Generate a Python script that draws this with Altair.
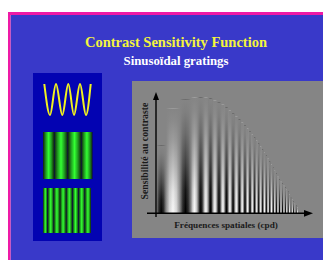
import altair as alt
import pandas as pd

# ---------------- texts ----------------
TITLE = "Contrast Sensitivity Function"
SUBTITLE = "Sinusoïdal gratings"
X_LABEL = "Fréquences spatiales (cpd)"
Y_LABEL = "Sensibilité au contraste"

# ---------------- CSF grating (Campbell-Robson chart) ----------------
# stripe centres measured from the y axis (px units), alternating dark / bright
STRIPE_POS = [3, 17, 31, 39, 45, 50, 54.5, 59, 63, 67, 70.5, 74, 77, 80.5, 83.5, 86.3,
              89, 91.7, 94, 96.3, 98.7, 100.7, 102.7, 104.7, 106.7, 108.5, 110.3, 112.1,
              113.8, 115.5, 117.2, 118.8, 120.4, 122.0, 123.5, 125.0, 126.5, 128.0, 129.4,
              130.8, 132.2, 133.6, 135.0, 136.3, 137.6, 138.9, 140.2, 141.5]
STRIPE_KIND = list("DBDBDBDBDBDBDBDBDBDBDBDBDBDBDBDBDBDBDBDBDBDBDBDB")
# height of each stripe above the frequency axis (sensitivity envelope)
STRIPE_HEIGHT = [68, 105, 114, 116, 116, 116, 115, 113, 111, 109, 106, 103, 100, 97, 94, 91,
                 88, 85, 82, 79, 76, 73, 70, 67, 64, 61, 58, 55, 52, 49, 46, 43, 40, 37, 34,
                 32, 30, 28, 26, 24, 22, 19, 16, 14, 12, 10, 8, 6]

# ---------------- icon panel ----------------
WAVE_X = [1.3, 7, 13, 19.3, 25.3, 31, 37, 43, 47.7]
WAVE_LEVEL = [1, 0, 1, 0, 1, 0, 1, 0, 1]
LOW_FREQ_GREEN = [4.5, 18, 31.5, 45]
HIGH_FREQ_GREEN = [1.5, 7.7, 13.9, 20.1, 26.3, 32.5, 38.7, 44.9]

# ---------------- layout (page pixels) ----------------
PAGE_X = (8, 323)
PAGE_Y = (8, 260)
ORIGIN = (156, 213.3)
ICON_LEFT, ICON_RIGHT = 43, 92.5
WAVE_TOP, WAVE_BOTTOM = 84, 115
GRAT1 = (132, 179)
GRAT2 = (188, 233)

GRAY = "#858585"

xs = alt.Scale(domain=list(PAGE_X), nice=False, zero=False)
ys = alt.Scale(domain=[PAGE_Y[1], PAGE_Y[0]], nice=False, zero=False)


def X(f="x"):
    return alt.X(f"{f}:Q", scale=xs, axis=None)


def Y(f="y"):
    return alt.Y(f"{f}:Q", scale=ys, axis=None)


bg = pd.DataFrame([
    dict(x=10.5, x2=340, y=15, y2=270, c="#3939c9"),
    dict(x=8, x2=340, y=12, y2=15, c="#ee1aa6"),
    dict(x=8, x2=10.5, y=12, y2=270, c="#ee1aa6"),
    dict(x=33, x2=102, y=73, y2=241, c="#0303b2"),
    dict(x=132, x2=324, y=81, y2=238, c=GRAY),
])
bg_layer = alt.Chart(bg).mark_rect(strokeWidth=0).encode(
    x=X(), x2="x2", y=Y(), y2="y2", color=alt.Color("c:N", scale=None))

rows = []
n = len(STRIPE_POS)
for i, (p, k, h) in enumerate(zip(STRIPE_POS, STRIPE_KIND, STRIPE_HEIGHT)):
    left = (STRIPE_POS[i - 1] + p) / 2 if i > 0 else max(0.5, p - (STRIPE_POS[1] - p) / 2)
    right = (STRIPE_POS[i + 1] + p) / 2 if i < n - 1 else p + (p - STRIPE_POS[i - 1]) / 2
    rows.append(dict(x=ORIGIN[0] + left, x2=ORIGIN[0] + right,
                     y=ORIGIN[1], y2=ORIGIN[1] - h, kind=k))
stripes = pd.DataFrame(rows)


def hgrad(mid, quarter):
    return alt.LinearGradient(
        gradient="linear", x1=0, x2=1, y1=0, y2=0,
        stops=[alt.GradientStop(color=GRAY, offset=0),
               alt.GradientStop(color=quarter, offset=0.25),
               alt.GradientStop(color=mid, offset=0.5),
               alt.GradientStop(color=quarter, offset=0.75),
               alt.GradientStop(color=GRAY, offset=1)])


dark = alt.Chart(stripes).transform_filter("datum.kind == 'D'").mark_rect(
    color=hgrad("#000000", "#272727"), strokeWidth=0).encode(
    x=X(), x2="x2", y=Y(), y2="y2")
bright = alt.Chart(stripes).transform_filter("datum.kind == 'B'").mark_rect(
    color=hgrad("#fafafa", "#d8d8d8"), strokeWidth=0).encode(
    x=X(), x2="x2", y=Y(), y2="y2")
fade = alt.Chart(stripes).mark_rect(
    color=alt.LinearGradient(
        gradient="linear", x1=0, x2=0, y1=1, y2=0,
        stops=[alt.GradientStop(color="rgba(133,133,133,0)", offset=0),
               alt.GradientStop(color="rgba(133,133,133,0.15)", offset=0.2),
               alt.GradientStop(color="rgba(133,133,133,0.5)", offset=0.45),
               alt.GradientStop(color="rgba(133,133,133,0.8)", offset=0.7),
               alt.GradientStop(color="rgba(133,133,133,0.95)", offset=0.88),
               alt.GradientStop(color="rgba(133,133,133,1)", offset=1)]),
    strokeWidth=0).encode(x=X(), x2="x2", y=Y(), y2="y2")

axes = pd.DataFrame([
    dict(x=147, x2=305, y=ORIGIN[1], y2=ORIGIN[1]),
    dict(x=ORIGIN[0], x2=ORIGIN[0], y=217, y2=99),
])
axis_layer = alt.Chart(axes).mark_rule(color="#000000", strokeWidth=1.4).encode(
    x=X(), x2="x2", y=Y(), y2="y2")
arrows = pd.DataFrame([dict(x=308.5, y=ORIGIN[1]), dict(x=ORIGIN[0], y=96)])
arrow_x = alt.Chart(arrows.iloc[[0]]).mark_point(
    shape="M1,0L-1,0.75L-1,-0.75Z", size=81, filled=True, color="#000000", opacity=1
).encode(x=X(), y=Y())
arrow_y = alt.Chart(arrows.iloc[[1]]).mark_point(
    shape="M0,-1L0.75,1L-0.75,1Z", size=64, filled=True, color="#000000", opacity=1
).encode(x=X(), y=Y())

wave = pd.DataFrame(dict(
    x=[ICON_LEFT + v for v in WAVE_X],
    y=[WAVE_BOTTOM - lv * (WAVE_BOTTOM - WAVE_TOP) for lv in WAVE_LEVEL]))
wave_layer = alt.Chart(wave).mark_line(
    color="#f2f21e", strokeWidth=2, interpolate="monotone").encode(x=X(), y=Y())


def grating(centres, top, bottom):
    per = centres[1] - centres[0]
    out = []
    for c in centres:
        lo = max(ICON_LEFT, ICON_LEFT + c - per / 2)
        hi = min(ICON_RIGHT, ICON_LEFT + c + per / 2)
        out.append(dict(x=lo, x2=hi, y=top, y2=bottom, c=c))
    return out


gr = pd.DataFrame(grating(LOW_FREQ_GREEN, *GRAT1) + grating(HIGH_FREQ_GREEN, *GRAT2))
green_grad = alt.LinearGradient(
    gradient="linear", x1=0, x2=1, y1=0, y2=0,
    stops=[alt.GradientStop(color="#101a10", offset=0),
           alt.GradientStop(color="#1f9a1f", offset=0.25),
           alt.GradientStop(color="#33ff33", offset=0.5),
           alt.GradientStop(color="#1f9a1f", offset=0.75),
           alt.GradientStop(color="#101a10", offset=1)])
green_layer = alt.Chart(gr).mark_rect(color=green_grad, strokeWidth=0).encode(
    x=X(), x2="x2", y=Y(), y2="y2")


def text_layer(txt, x, y, size, color, angle=0):
    d = pd.DataFrame([dict(x=x, y=y, t=txt)])
    return alt.Chart(d).mark_text(
        font="Liberation Serif", fontWeight="bold", fontSize=size, color=color,
        align="center", baseline="alphabetic", angle=angle).encode(
        x=X(), y=Y(), text="t:N")


title_layer = text_layer(TITLE, 176, 47, 14.5, "#f4f43c")
subtitle_layer = text_layer(SUBTITLE, 176, 65, 12.8, "#ffffff")
xlabel_layer = text_layer(X_LABEL, 226, 228, 9.2, "#1a1a1a")
ylabel_layer = text_layer(Y_LABEL, 148, 151, 9.8, "#1a1a1a", angle=270)

chart = alt.layer(
    bg_layer, dark, bright, fade, axis_layer, arrow_x, arrow_y,
    wave_layer, green_layer, title_layer, subtitle_layer, xlabel_layer, ylabel_layer
).properties(
    width=PAGE_X[1] - PAGE_X[0], height=PAGE_Y[1] - PAGE_Y[0],
    autosize=alt.AutoSizeParams(type="none"), padding=0, background="#ffffff"
).configure_view(stroke=None)

chart.save("out.html", embed_options={"renderer": "svg", "actions": False})
